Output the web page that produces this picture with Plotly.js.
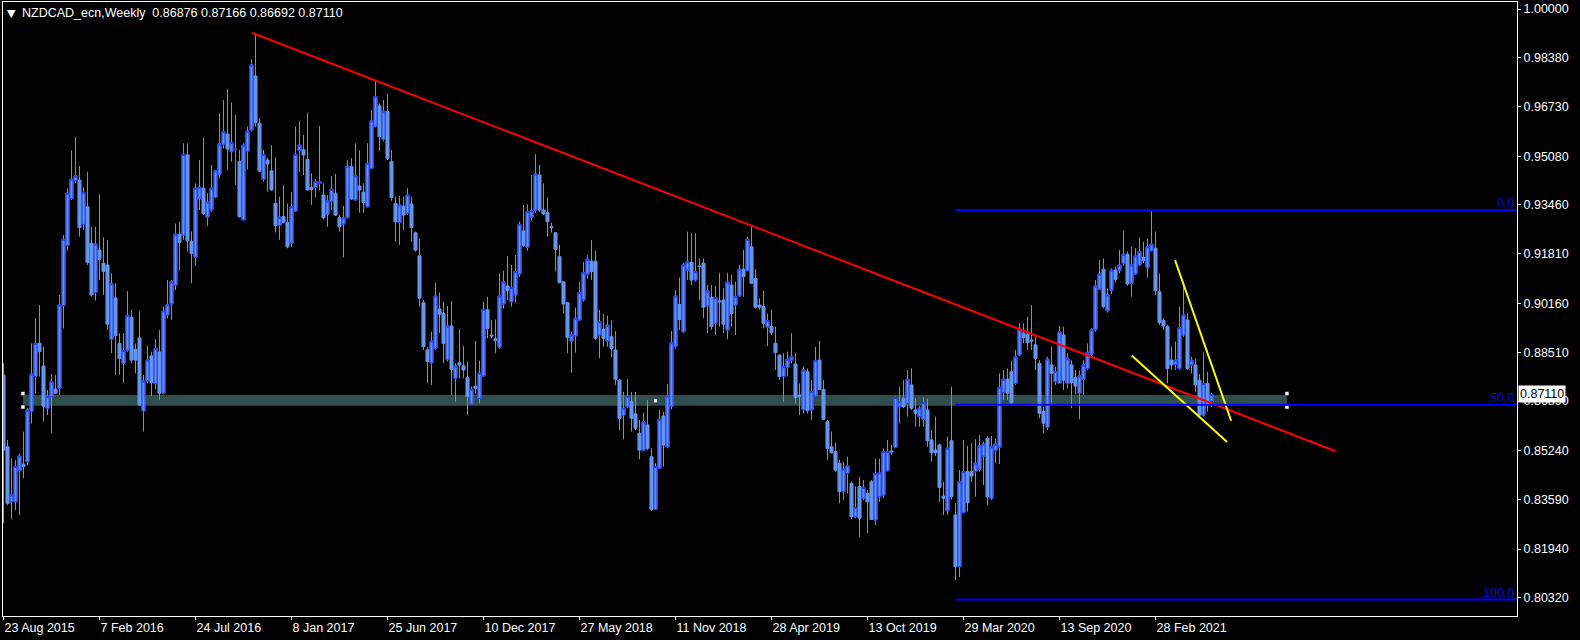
<!DOCTYPE html>
<html>
<head>
<meta charset="utf-8">
<script src="https://cdn.plot.ly/plotly-3.0.1.min.js"></script>
<style>html,body{margin:0;padding:0;background:#000;}#chart{width:1580px;height:640px;}</style>
</head>
<body>
<div id="chart"></div>
<script>
// ---- Data: NZDCAD_ecn weekly candles, first bar week of 23 Aug 2015 ----
const symbolTitle = "NZDCAD_ecn,Weekly\u00a0 0.86876 0.87166 0.86692 0.87110";
const firstWeek = "2015-08-23";

const open = [0.8776,0.8536,0.8352,0.8352,0.8456,0.8478,0.8486,0.8654,0.8771,0.8882,0.8806,0.8665,0.8704,0.8729,0.8732,0.9008,0.9209,0.9366,0.9426,0.9428,
0.9280,0.9339,0.9217,0.9052,0.9194,0.9150,0.9144,0.8895,0.9034,0.8882,0.8815,0.8860,0.8969,0.8862,0.8900,0.8656,0.8756,0.8840,0.8748,0.8853,
0.8715,0.8977,0.9014,0.9077,0.9247,0.9244,0.9512,0.9222,0.9170,0.9367,0.9401,0.9304,0.9328,0.9370,0.9448,0.9548,0.9582,0.9523,0.9530,0.9490,
0.9295,0.9525,0.9596,0.9776,0.9618,0.9431,0.9495,0.9459,0.9350,0.9276,0.9306,0.9286,0.9217,0.9325,0.9527,0.9529,0.9498,0.9404,0.9403,0.9417,
0.9378,0.9314,0.9356,0.9384,0.9302,0.9281,0.9302,0.9473,0.9362,0.9408,0.9387,0.9339,0.9467,0.9609,0.9676,0.9564,0.9657,0.9490,0.9350,0.9286,
0.9341,0.9317,0.9348,0.9252,0.9175,0.9018,0.8860,0.8817,0.8865,0.8997,0.8982,0.8829,0.8940,0.8765,0.8817,0.8807,0.8767,0.8679,0.8739,0.8698,
0.8773,0.8994,0.8910,0.8897,0.8869,0.9014,0.9074,0.9021,0.9044,0.9114,0.9258,0.9203,0.9304,0.9328,0.9445,0.9328,0.9319,0.9272,0.9252,0.9172,
0.9088,0.9018,0.8890,0.8907,0.8960,0.9027,0.9114,0.9157,0.9157,0.8910,0.8929,0.8890,0.8904,0.8860,0.8759,0.8642,0.8670,0.8687,0.8646,0.8581,
0.8525,0.8609,0.8503,0.8327,0.8464,0.8639,0.8536,0.8672,0.8871,0.9012,0.8921,0.9127,0.9153,0.9094,0.9141,0.9150,0.9007,0.9036,0.8949,0.9024,
0.9027,0.8927,0.9077,0.9010,0.9040,0.9130,0.9125,0.9205,0.9099,0.9010,0.9005,0.8936,0.8938,0.8882,0.8843,0.8771,0.8802,0.8826,0.8813,0.8709,
0.8660,0.8787,0.8659,0.8706,0.8826,0.8728,0.8620,0.8536,0.8520,0.8481,0.8386,0.8447,0.8414,0.8302,0.8403,0.8364,0.8380,0.8419,0.8291,0.8369,
0.8375,0.8456,0.8522,0.8534,0.8670,0.8698,0.8681,0.8743,0.8659,0.8637,0.8628,0.8659,0.8559,0.8525,0.8542,0.8371,0.8322,0.8556,0.8308,0.8135,
0.8316,0.8453,0.8453,0.8453,0.8461,0.8505,0.8564,0.8364,0.8523,0.8534,0.8717,0.8762,0.8787,0.8748,0.8843,0.8916,0.8912,0.8893,0.8877,0.8815,
0.8654,0.8601,0.8810,0.8754,0.8748,0.8910,0.8748,0.8810,0.8767,0.8715,0.8762,0.8798,0.8846,0.8927,0.9063,0.9130,0.8991,0.9060,0.9127,0.9127,
0.9150,0.9180,0.9083,0.9114,0.9144,0.9170,0.9135,0.9192,0.9200,0.9055,0.8958,0.8938,0.8826,0.8812,0.8798,0.8910,0.8960,0.8810,0.8810,0.8759,
0.8642,0.8748,0.86876];

const high = [0.8815,0.8559,0.8497,0.8492,0.8514,0.8587,0.8665,0.8882,0.8966,0.9010,0.8871,0.8726,0.8779,0.8776,0.9044,0.9244,0.9401,0.9527,0.9573,0.9475,
0.9404,0.9456,0.9272,0.9272,0.9380,0.9237,0.9228,0.9116,0.9083,0.8916,0.8916,0.9057,0.8994,0.8882,0.8990,0.8776,0.8874,0.8854,0.8895,0.8927,
0.9005,0.9094,0.9094,0.9283,0.9289,0.9551,0.9551,0.9256,0.9417,0.9495,0.9570,0.9384,0.9479,0.9462,0.9651,0.9696,0.9732,0.9687,0.9646,0.9529,
0.9551,0.9607,0.9832,0.9920,0.9635,0.9529,0.9503,0.9545,0.9504,0.9373,0.9412,0.9350,0.9389,0.9607,0.9627,0.9579,0.9654,0.9451,0.9431,0.9609,
0.9417,0.9378,0.9442,0.9448,0.9311,0.9341,0.9495,0.9501,0.9551,0.9527,0.9417,0.9551,0.9663,0.9763,0.9685,0.9696,0.9716,0.9529,0.9373,0.9375,
0.9373,0.9401,0.9373,0.9256,0.9233,0.9027,0.8871,0.8921,0.9085,0.9052,0.9021,0.9007,0.9024,0.8815,0.8931,0.8873,0.8821,0.8737,0.8891,0.8824,
0.9021,0.9038,0.8960,0.8962,0.9116,0.9125,0.9174,0.9144,0.9178,0.9289,0.9345,0.9347,0.9445,0.9515,0.9479,0.9417,0.9370,0.9286,0.9252,0.9211,
0.9088,0.9021,0.8921,0.9002,0.9088,0.9155,0.9177,0.9228,0.9192,0.8994,0.8980,0.8975,0.8960,0.8923,0.8762,0.8720,0.8762,0.8720,0.8720,0.8626,
0.8650,0.8693,0.8531,0.8481,0.8659,0.8653,0.8746,0.8923,0.9060,0.9102,0.9152,0.9256,0.9250,0.9250,0.9166,0.9166,0.9077,0.9077,0.9074,0.9118,
0.9066,0.9118,0.9111,0.9088,0.9144,0.9194,0.9239,0.9278,0.9130,0.9033,0.9057,0.8982,0.8994,0.8938,0.8843,0.8849,0.8854,0.8916,0.8849,0.8748,
0.8804,0.8798,0.8759,0.8871,0.8891,0.8759,0.8626,0.8587,0.8550,0.8492,0.8486,0.8503,0.8420,0.8403,0.8436,0.8425,0.8391,0.8425,0.8497,0.8497,
0.8531,0.8559,0.8542,0.8704,0.8737,0.8759,0.8793,0.8798,0.8698,0.8673,0.8701,0.8698,0.8592,0.8637,0.8547,0.8419,0.8570,0.8737,0.8347,0.8458,
0.8559,0.8539,0.8548,0.8561,0.8575,0.8553,0.8572,0.8572,0.8564,0.8782,0.8793,0.8798,0.8824,0.8860,0.8949,0.8949,0.8971,0.9010,0.8907,0.8826,
0.8670,0.8837,0.8871,0.8804,0.8940,0.8938,0.8849,0.8826,0.8793,0.8791,0.8826,0.8882,0.8932,0.9094,0.9161,0.9166,0.9066,0.9133,0.9139,0.9194,
0.9258,0.9189,0.9205,0.9200,0.9237,0.9222,0.9233,0.9328,0.9256,0.9116,0.8966,0.8944,0.8871,0.8888,0.9005,0.9072,0.8982,0.8837,0.8832,0.8779,
0.8852,0.8787,0.87166];

const low = [0.8280,0.8341,0.8293,0.8325,0.8308,0.8431,0.8475,0.8614,0.8715,0.8771,0.8620,0.8642,0.8583,0.8715,0.8709,0.8932,0.9192,0.9362,0.9417,0.9239,
0.9261,0.9144,0.9038,0.9025,0.9094,0.9044,0.8927,0.8849,0.8776,0.8778,0.8748,0.8854,0.8815,0.8782,0.8672,0.8587,0.8748,0.8706,0.8728,0.8693,
0.8711,0.8966,0.8960,0.9060,0.9127,0.9228,0.9189,0.9083,0.9142,0.9328,0.9311,0.9275,0.9322,0.9367,0.9434,0.9534,0.9462,0.9490,0.9412,0.9302,
0.9295,0.9464,0.9590,0.9607,0.9456,0.9423,0.9389,0.9393,0.9253,0.9228,0.9286,0.9200,0.9205,0.9322,0.9456,0.9445,0.9393,0.9345,0.9370,0.9395,
0.9297,0.9272,0.9328,0.9308,0.9256,0.9170,0.9300,0.9362,0.9359,0.9319,0.9319,0.9337,0.9464,0.9605,0.9527,0.9557,0.9495,0.9359,0.9222,0.9211,
0.9261,0.9311,0.9222,0.9189,0.9005,0.8860,0.8748,0.8743,0.8860,0.8916,0.8815,0.8821,0.8709,0.8687,0.8765,0.8765,0.8642,0.8679,0.8715,0.8681,
0.8771,0.8899,0.8899,0.8849,0.8865,0.8999,0.9027,0.9005,0.9018,0.9105,0.9205,0.9192,0.9292,0.9319,0.9322,0.9311,0.9239,0.9252,0.9122,0.9083,
0.8982,0.8849,0.8784,0.8851,0.8958,0.9021,0.9099,0.9094,0.8893,0.8832,0.8871,0.8871,0.8837,0.8743,0.8592,0.8561,0.8665,0.8587,0.8592,0.8494,
0.8523,0.8525,0.8322,0.8325,0.8461,0.8470,0.8531,0.8661,0.8865,0.8927,0.8916,0.9094,0.9077,0.9088,0.9027,0.8966,0.8916,0.8927,0.8910,0.8938,
0.8916,0.8895,0.8938,0.8910,0.9038,0.9038,0.9125,0.9081,0.8999,0.8994,0.8932,0.8873,0.8910,0.8793,0.8759,0.8687,0.8771,0.8815,0.8681,0.8642,
0.8648,0.8648,0.8626,0.8704,0.8726,0.8626,0.8492,0.8514,0.8453,0.8347,0.8358,0.8380,0.8295,0.8297,0.8235,0.8358,0.8247,0.8291,0.8274,0.8352,
0.8364,0.8453,0.8509,0.8531,0.8614,0.8665,0.8637,0.8659,0.8603,0.8603,0.8603,0.8536,0.8486,0.8505,0.8352,0.8308,0.8308,0.8360,0.8090,0.8100,
0.8313,0.8319,0.8419,0.8369,0.8453,0.8408,0.8341,0.8358,0.8481,0.8478,0.8693,0.8693,0.8676,0.8743,0.8840,0.8882,0.8860,0.8860,0.8793,0.8631,
0.8581,0.8592,0.8681,0.8743,0.8746,0.8726,0.8731,0.8665,0.8711,0.8628,0.8709,0.8793,0.8837,0.8921,0.9060,0.8999,0.8985,0.9047,0.9085,0.9116,
0.9141,0.9074,0.9038,0.9111,0.9141,0.9150,0.9102,0.9189,0.9043,0.8943,0.8927,0.8748,0.8793,0.8793,0.8793,0.8904,0.8793,0.8782,0.8720,0.8637,
0.8637,0.8654,0.86692];

const close = [0.8525,0.8347,0.8375,0.8470,0.8505,0.8470,0.8659,0.8779,0.8882,0.8854,0.8672,0.8704,0.8754,0.8715,0.9010,0.9230,0.9384,0.9431,0.9442,0.9269,
0.9386,0.9153,0.9044,0.9214,0.9163,0.9122,0.8946,0.9081,0.8908,0.8832,0.8858,0.8976,0.8826,0.8826,0.8676,0.8756,0.8826,0.8751,0.8865,0.8715,
0.8990,0.9011,0.9088,0.9247,0.9220,0.9514,0.9225,0.9183,0.9401,0.9404,0.9316,0.9355,0.9401,0.9459,0.9549,0.9590,0.9532,0.9554,0.9531,0.9306,
0.9545,0.9592,0.9813,0.9620,0.9458,0.9514,0.9482,0.9395,0.9276,0.9304,0.9287,0.9205,0.9339,0.9514,0.9545,0.9512,0.9395,0.9397,0.9423,0.9423,
0.9302,0.9358,0.9397,0.9311,0.9272,0.9302,0.9475,0.9365,0.9442,0.9395,0.9353,0.9484,0.9626,0.9707,0.9573,0.9659,0.9501,0.9370,0.9289,0.9345,
0.9311,0.9378,0.9269,0.9194,0.9033,0.8871,0.8821,0.8890,0.9040,0.8979,0.8882,0.8940,0.8795,0.8806,0.8810,0.8793,0.8704,0.8728,0.8732,0.8782,
0.8996,0.8932,0.8907,0.8891,0.9040,0.9088,0.9058,0.9069,0.9122,0.9280,0.9209,0.9322,0.9325,0.9448,0.9328,0.9315,0.9289,0.9269,0.9196,0.9085,
0.9014,0.8901,0.8910,0.8966,0.9052,0.9118,0.9163,0.9122,0.8899,0.8955,0.8899,0.8943,0.8865,0.8762,0.8631,0.8665,0.8704,0.8631,0.8598,0.8525,
0.8620,0.8531,0.8327,0.8470,0.8628,0.8542,0.8706,0.8884,0.9040,0.8962,0.9144,0.9155,0.9094,0.9122,0.9139,0.9003,0.9057,0.8938,0.9035,0.9021,
0.8946,0.9088,0.8982,0.9038,0.9130,0.9105,0.9230,0.9083,0.9003,0.9003,0.8949,0.8958,0.8918,0.8851,0.8771,0.8804,0.8829,0.8837,0.8701,0.8704,
0.8793,0.8657,0.8720,0.8824,0.8728,0.8628,0.8531,0.8516,0.8458,0.8386,0.8461,0.8472,0.8302,0.8333,0.8297,0.8400,0.8352,0.8293,0.8447,0.8449,
0.8520,0.8520,0.8519,0.8701,0.8687,0.8670,0.8762,0.8665,0.8648,0.8665,0.8684,0.8556,0.8516,0.8516,0.8400,0.8364,0.8531,0.8369,0.8135,0.8419,
0.8453,0.8349,0.8438,0.8481,0.8539,0.8545,0.8369,0.8536,0.8545,0.8735,0.8762,0.8715,0.8684,0.8837,0.8929,0.8901,0.8884,0.8890,0.8832,0.8648,
0.8615,0.8829,0.8782,0.8787,0.8921,0.8759,0.8832,0.8751,0.8739,0.8773,0.8810,0.8852,0.8927,0.9074,0.9114,0.9005,0.9044,0.9127,0.9096,0.9144,
0.9180,0.9081,0.9144,0.9174,0.9189,0.9159,0.9205,0.9214,0.9058,0.8951,0.8940,0.8798,0.8810,0.8826,0.8934,0.8977,0.8798,0.8826,0.8743,0.8642,
0.8748,0.8676,0.87110];

// axis labels
const xTickDates = ["2015-08-23","2016-02-07","2016-07-24","2017-01-08","2017-06-25","2017-12-10","2018-05-27","2018-11-11","2019-04-28","2019-10-13","2020-03-29","2020-09-13","2021-02-28"];
const xTickLabels = ["23 Aug 2015","7 Feb 2016","24 Jul 2016","8 Jan 2017","25 Jun 2017","10 Dec 2017","27 May 2018","11 Nov 2018","28 Apr 2019","13 Oct 2019","29 Mar 2020","13 Sep 2020","28 Feb 2021"];
const yTickValues = [1.0,0.9838,0.9673,0.9508,0.9346,0.9181,0.9016,0.8851,0.8689,0.8524,0.8359,0.8194,0.8032];
const yTickLabels = ["1.00000","0.98380","0.96730","0.95080","0.93460","0.91810","0.90160","0.88510","0.86890","0.85240","0.83590","0.81940","0.80320"];

// drawn objects
const redTrendDates = ["2016-10-30 08:00","2022-01-08 00:00"];
const redTrendPrices = [0.9921,0.8522];
const yellowUpperDates = ["2021-04-03 07:00","2021-07-10 07:00"];
const yellowUpperPrices = [0.9160,0.8623];
const yellowLowerDates = ["2021-01-17 08:00","2021-07-03 07:00"];
const yellowLowerPrices = [0.8841,0.8552];
const zoneDates = ["2015-09-26","2021-10-16"];
const zonePrices = [0.8673,0.8709];
const fibStartDate = "2020-03-15";
const fibLevels = ["0.0","50.0","100.0"];
const fibPrices = [0.9328,0.8677,0.8025];
const handleDates = ["2015-09-26","2015-09-26","2018-10-07","2021-10-16","2021-10-16"];
const handlePrices = [0.8714,0.8669,0.8690,0.8714,0.8669];
const lastPrice = 0.87110;

// ---- build ----
const DAY = 864e5, WEEK = 7*DAY;
const t0 = Date.parse(firstWeek + "T00:00:00Z");
const iso = t => new Date(t).toISOString().replace("T"," ").slice(0,19);
const dates = open.map((_, i) => iso(t0 + i*WEEK));
const xRange = [iso(t0 - 0.125*WEEK), iso(t0 + 378.375*WEEK)];

const CORN = "#6495ED", BULL_EDGE = "#1f3df5";
const none = "rgba(0,0,0,0)";

const allCandles = {
  type: "candlestick", x: dates, open: open, high: high, low: low, close: close,
  increasing: {line: {color: CORN, width: 1}, fillcolor: CORN},
  decreasing: {line: {color: CORN, width: 1}, fillcolor: CORN},
  whiskerwidth: 0, hoverinfo: "skip"
};
// bull bodies get a blue outline (wicks stay cornflower)
const bullBodies = {
  type: "candlestick", x: dates, open: open, close: close,
  high: open.map((o, i) => Math.max(o, close[i])),
  low: open.map((o, i) => Math.min(o, close[i])),
  increasing: {line: {color: BULL_EDGE, width: 1}, fillcolor: CORN},
  decreasing: {line: {color: none, width: 0}, fillcolor: none},
  whiskerwidth: 0, hoverinfo: "skip"
};
const handles = {
  type: "scatter", mode: "markers", x: handleDates, y: handlePrices,
  marker: {symbol: "square", size: 4, color: "#ffffff", line: {color: "#000", width: 0.5}},
  hoverinfo: "skip"
};

const shapes = [
  {type: "rect", xref: "x", yref: "y", x0: zoneDates[0], x1: zoneDates[1], y0: zonePrices[0], y1: zonePrices[1],
   fillcolor: "#2F4F4F", line: {width: 0}, layer: "below"},
  {type: "line", xref: "x", yref: "y", x0: redTrendDates[0], x1: redTrendDates[1], y0: redTrendPrices[0], y1: redTrendPrices[1],
   line: {color: "#FF0000", width: 2}},
  {type: "line", xref: "x", yref: "y", x0: yellowUpperDates[0], x1: yellowUpperDates[1], y0: yellowUpperPrices[0], y1: yellowUpperPrices[1],
   line: {color: "#FFFF00", width: 2}},
  {type: "line", xref: "x", yref: "y", x0: yellowLowerDates[0], x1: yellowLowerDates[1], y0: yellowLowerPrices[0], y1: yellowLowerPrices[1],
   line: {color: "#FFFF00", width: 2}}
];
fibPrices.forEach(p => shapes.push({type: "line", xref: "x", yref: "y", x0: fibStartDate, x1: xRange[1], y0: p, y1: p,
  line: {color: "#0000FF", width: 2}}));

const FONT = "Liberation Sans, Arial, sans-serif";
const annotations = [
  {xref: "paper", yref: "paper", x: 0, y: 1, xanchor: "left", yanchor: "top", xshift: 2, yshift: -3,
   text: "\u25BC", showarrow: false, font: {family: "DejaVu Sans", size: 11, color: "#ffffff"}},
  {xref: "paper", yref: "paper", x: 0, y: 1, xanchor: "left", yanchor: "top", xshift: 17, yshift: -2,
   text: symbolTitle, showarrow: false, font: {family: FONT, size: 12.5, color: "#ffffff"}},
  {xref: "paper", yref: "y", x: 1, y: lastPrice, xanchor: "left", yanchor: "middle", xshift: 1,
   text: lastPrice.toFixed(5), showarrow: false, bgcolor: "#ffffff", borderpad: 1,
   font: {family: FONT, size: 12.5, color: "#000000"}}
];
fibLevels.forEach((lab, k) => annotations.push({xref: "paper", yref: "y", x: 1, y: fibPrices[k], xanchor: "right", yanchor: "bottom",
  xshift: -1, yshift: -2, text: lab, showarrow: false, font: {family: FONT, size: 12.5, color: "#0a0ad2"}}));

const layout = {
  width: 1580, height: 640,
  paper_bgcolor: "#000000", plot_bgcolor: "#000000",
  margin: {l: 3, r: 63, t: 2, b: 24, pad: 0},
  showlegend: false,
  font: {family: FONT, size: 12.5, color: "#ffffff"},
  xaxis: {type: "date", range: xRange, rangeslider: {visible: false}, showgrid: false, zeroline: false,
    showline: true, linecolor: "#ffffff", linewidth: 1, mirror: true,
    ticks: "outside", ticklen: 3, tickcolor: "#ffffff", tickwidth: 1,
    tickmode: "array", tickvals: xTickDates, ticktext: xTickLabels, ticklabelposition: "outside right",
    tickfont: {family: FONT, size: 12.5, color: "#ffffff"}, fixedrange: true},
  yaxis: {side: "right", range: [0.797007, 1.002375], showgrid: false, zeroline: false,
    showline: true, linecolor: "#ffffff", linewidth: 1, mirror: true,
    ticks: "outside", ticklen: 3, tickcolor: "#ffffff", tickwidth: 1,
    tickmode: "array", tickvals: yTickValues, ticktext: yTickLabels,
    tickfont: {family: FONT, size: 12.5, color: "#ffffff"}, fixedrange: true},
  boxgap: 0.1, boxgroupgap: 0.15,
  shapes: shapes, annotations: annotations
};

Plotly.newPlot("chart", [allCandles, bullBodies, handles], layout, {displayModeBar: false, staticPlot: true});
</script>
</body>
</html>
